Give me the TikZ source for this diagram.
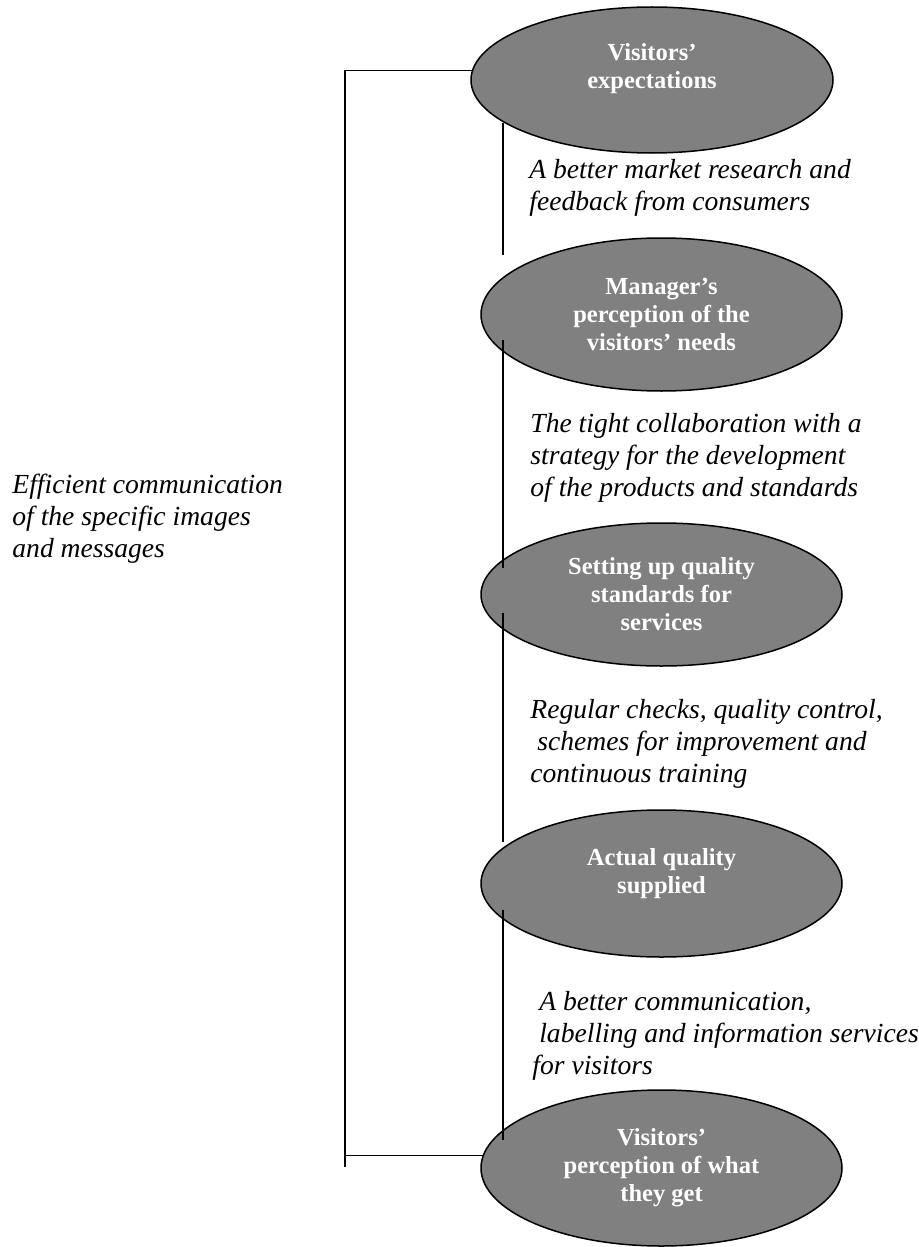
\documentclass[tikz,border=0pt]{standalone}
\usepackage{fontspec}
\setmainfont{Liberation Serif}
\usetikzlibrary{positioning, shapes.geometric, calc}

\begin{document}
\begin{tikzpicture}[
  x=0.5pt, y=-0.5pt,
  stage/.style={ellipse, draw, line width=0.75pt, fill=black!50, text=white,
                minimum width=180.5pt, minimum height=73.5pt, inner sep=0pt,
                outer sep=0pt, align=center,
                font=\fontsize{12.25}{14}\selectfont\bfseries},
  note/.style={anchor=north west, inner sep=0pt, align=left,
               font=\fontsize{13.8}{16}\selectfont\itshape},
  link/.style={line width=0.65pt},
]
\useasboundingbox (0,0) rectangle (918,1247);

\node[stage, minimum width=181pt, minimum height=73pt] (expect) at (652,80)
  {Visitors’\\expectations\\[-4pt]\strut};

\node[stage, below=42.5pt of expect, xshift=4.75pt, minimum height=76.5pt] (manager)
  {Manager’s\\perception of the\\visitors’ needs};

\node[stage, below=66pt of manager, minimum height=71.5pt] (standard)
  {Setting up quality\\standards for\\services};

\node[stage, below=72pt of standard] (actual)
  {Actual quality\\supplied\\[-6pt]\strut};

\node[stage, below=66.5pt of actual, minimum height=78pt] (percep)
  {Visitors’\\perception of what\\they get};

% ---- texts ----
\node[note] (effic) at (12,474)
  {Efficient communication\\of the specific images\\and messages};
\node[note] (research) at (529,159)
  {A better market research and\\feedback from consumers};
\node[note] (collab) at (530,413)
  {The tight collaboration with a\\strategy for the development\\of the products and standards};
\node[note] (checks) at (530,699)
  {Regular checks, quality control,\\\hspace*{0.25em}schemes for improvement and\\continuous training};
\node[note] (inform) at (532,991)
  {\hspace*{0.25em}A better communication,\\\hspace*{0.25em}labelling and information services\\for visitors};

% ---- lines ----
\coordinate (brk) at (345,1167);
\draw[link] (expect.177.5) -| (brk);
\draw[link] (percep.176.8) -- (percep.176.8 -| brk);

\draw[link] ($(expect.center)+(-149,43)$)    -- ($(manager.center)+(-158.5,-59.5)$);
\draw[link] ($(manager.center)+(-158.5,25.5)$) -- ($(standard.center)+(-158.5,-26.5)$);
\draw[link] ($(standard.center)+(-158.5,18.5)$) -- ($(actual.center)+(-158.5,-41.5)$);
\draw[link] ($(actual.center)+(-158.5,26.5)$)  -- ($(percep.center)+(-158.5,-28)$);

\end{tikzpicture}
\end{document}
